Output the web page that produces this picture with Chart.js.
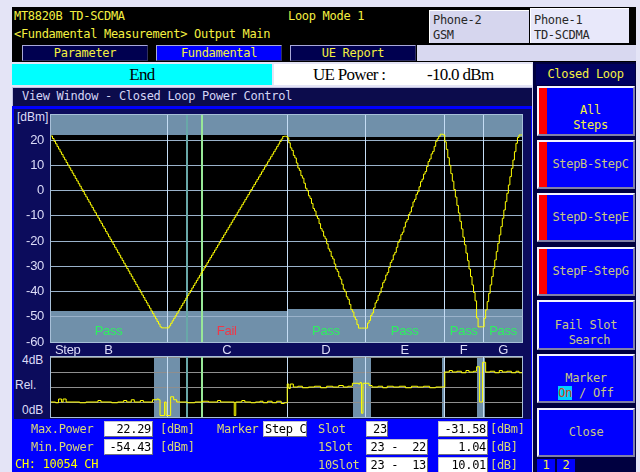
<!DOCTYPE html>
<html>
<head>
<meta charset="utf-8">
<title>Closed Loop Power Control</title>
<script src="https://cdn.jsdelivr.net/npm/chart.js@4.4.1/dist/chart.umd.min.js"></script>
<style>
  html, body { margin: 0; padding: 0; }
  body { width: 640px; height: 472px; position: relative; overflow: hidden; background: #e4e4f6;
         font-family: 'DejaVu Sans Mono', monospace; font-size: 12px; letter-spacing: -0.3px; }
  .a { position: absolute; box-sizing: border-box; white-space: pre; }
  .yl { color: #f4f040; }
  .dim { color: #d8d878; }
  .tab { top: 45px; width: 126px; height: 16px; line-height: 14px; text-align: center; color: #f4f040;
         border: 1px solid; border-color: #a8a8d8 #303060 #303060 #a8a8d8; background: #000050; }
  .box { background: #fff; color: #000; height: 16px; line-height: 14px; text-align: right; padding-right: 1px;
         border: 1px solid; border-color: #c0c0d0 #707080 #707080 #c0c0d0; }
  .btn { left: 537px; width: 98px; background: #0000ff; color: #c8c880; text-align: center; line-height: 15px;
         border: 2px solid; border-color: #f4f4ff #8080a8 #8080a8 #f4f4ff;
         display: flex; align-items: center; justify-content: center; }
  .btn.s { padding-left: 9px; }
  .btn i { position: absolute; left: 0; top: 0; bottom: 0; width: 8px; background: #ff0000; }
  .on { background: #00d0ff; color: #d04020; }
  .ax { font-family: 'Liberation Sans', sans-serif; font-size: 12px; color: #dcdcf8; letter-spacing: 0; line-height: 14px; }
  canvas { position: absolute; }
</style>
</head>
<body>
<!-- header -->
<div class="a" style="left:12px;top:7px;width:624px;height:55px;background:#000"></div>
<div class="a yl" style="left:14px;top:9px;line-height:14px">MT8820B TD-SCDMA</div>
<div class="a yl" style="left:288px;top:9px;line-height:14px">Loop Mode 1</div>
<div class="a yl" style="left:14px;top:27px;line-height:14px">&lt;Fundamental Measurement&gt; Output Main</div>
<div class="a" style="left:429px;top:10px;width:100px;height:33px;background:#d6d6ee;color:#282828;border-top:1px solid #fff;border-left:1px solid #fff;padding:2px 0 0 3px;line-height:15px">Phone-2<br>GSM</div>
<div class="a" style="left:530px;top:8px;width:99px;height:35px;background:#e8e8fa;color:#282828;border-top:1px solid #fff;border-left:1px solid #fff;padding:4px 0 0 3px;line-height:15px">Phone-1<br>TD-SCDMA</div>

<!-- tabs -->
<div class="a tab" style="left:22px">Parameter</div>
<div class="a tab" style="left:156px;background:#0000ff">Fundamental</div>
<div class="a tab" style="left:290px">UE Report</div>
<div class="a" style="left:417px;top:45px;width:219px;height:16px;background:#d8d8f0"></div>

<!-- status row -->
<div class="a" style="left:12px;top:64px;width:260px;height:21px;background:#00ffff;color:#000;text-align:center;line-height:21px;font-family:'Liberation Serif',serif;font-size:17px;letter-spacing:-0.7px">End</div>
<div class="a" style="left:274px;top:64px;width:258px;height:21px;background:#fff;color:#000;line-height:21px;font-family:'Liberation Serif',serif;font-size:17px;letter-spacing:-0.7px">
<span class="a" style="left:39px;top:0">UE Power :</span><span class="a" style="left:153px;top:0">-10.0 dBm</span></div>

<!-- right column -->
<div class="a" style="left:533px;top:62px;width:103px;height:410px;background:#000040"></div>
<div class="a yl" style="left:536px;top:64px;width:99px;height:21px;background:#000060;text-align:center;line-height:21px">Closed Loop</div>
<div class="a btn s" style="top:86px;height:50px;padding-top:14px;color:#f4f040"><i></i><span>All<br>Steps</span></div>
<div class="a btn s" style="top:140px;height:49px"><i></i><span>StepB-StepC</span></div>
<div class="a btn s" style="top:193px;height:49px"><i></i><span>StepD-StepE</span></div>
<div class="a btn s" style="top:247px;height:49px"><i></i><span>StepF-StepG</span></div>
<div class="a btn" style="top:300px;height:50px;padding-top:16px"><span>Fail Slot<br> Search</span></div>
<div class="a btn" style="top:354px;height:49px;padding-top:15px"><span>Marker<br><span class="on">On</span> / Off</span></div>
<div class="a btn" style="top:408px;height:49px"><span>Close</span></div>
<div class="a yl" style="left:537px;top:459px;width:18px;height:13px;background:#0000ff;text-align:center;line-height:13px">1</div>
<div class="a yl" style="left:557px;top:459px;width:18px;height:13px;background:#0000ff;text-align:center;line-height:13px">2</div>

<!-- view window -->
<div class="a" style="left:12px;top:87px;width:520px;height:19px;background:#0c0c4c;border-top:1px solid #c0c0e0;border-left:1px solid #c0c0e0;color:#d4d4f4;padding-left:9px;line-height:17px">View Window - Closed Loop Power Control</div>
<div class="a" style="left:12px;top:106px;width:520px;height:366px;background:#0000ff"></div>
<div class="a" style="left:14px;top:109px;width:517px;height:310px;background:#0c0c5c"></div>
<div class="a" style="left:532px;top:87px;width:1px;height:385px;background:#d0d0f0"></div>

<div class="a ax" style="left:17px;top:110px">[dBm]</div>
<div class="a ax" style="left:22px;top:353px">4dB</div>
<div class="a ax" style="left:15px;top:378px">Rel.</div>
<div class="a ax" style="left:22px;top:403px">0dB</div>

<canvas id="power" width="518" height="258" style="left:12px;top:100px"></canvas>
<canvas id="relative" width="518" height="70" style="left:12px;top:350px"></canvas>

<!-- measurement panel -->
<div class="a dim" style="left:31px;top:422px;line-height:14px">Max.Power</div>
<div class="a box" style="left:104px;top:421px;width:49px">22.29</div>
<div class="a dim" style="left:160px;top:422px;line-height:14px">[dBm]</div>
<div class="a dim" style="left:31px;top:440px;line-height:14px">Min.Power</div>
<div class="a box" style="left:104px;top:439px;width:49px">-54.43</div>
<div class="a dim" style="left:160px;top:440px;line-height:14px">[dBm]</div>
<div class="a yl" style="left:15px;top:457px;line-height:14px;color:#ffff00">CH: 10054 CH</div>

<div class="a dim" style="left:217px;top:422px;line-height:14px">Marker</div>
<div class="a box" style="left:263px;top:421px;width:44px;text-align:left;padding-left:1px">Step C</div>
<div class="a dim" style="left:318px;top:422px;line-height:14px">Slot</div>
<div class="a box" style="left:366px;top:421px;width:22px;text-align:left;padding-left:6px">23</div>
<div class="a dim" style="left:318px;top:440px;line-height:14px">1Slot</div>
<div class="a box" style="left:366px;top:439px;width:62px">23 -  22</div>
<div class="a dim" style="left:318px;top:458px;line-height:14px">10Slot</div>
<div class="a box" style="left:366px;top:457px;width:62px">23 -  13</div>
<div class="a box" style="left:438px;top:421px;width:50px">-31.58</div>
<div class="a box" style="left:438px;top:439px;width:50px">1.04</div>
<div class="a box" style="left:438px;top:457px;width:50px">10.01</div>
<div class="a dim" style="left:490px;top:422px;line-height:14px">[dBm]</div>
<div class="a dim" style="left:490px;top:440px;line-height:14px">[dB]</div>
<div class="a dim" style="left:490px;top:458px;line-height:14px">[dB]</div>

<script>
// closed loop steps and their result
const stepNames = ['B', 'C', 'D', 'E', 'F', 'G'];
const stepResult = ['Pass', 'Fail', 'Pass', 'Pass', 'Pass', 'Pass'];

// measured output power per slot [dBm], one array per step
const stepB = [21.6, 20.6, 19.5, 18.5, 17.4, 16.4, 15.3, 14.3, 13.2, 12.2,
  11.1, 10.1, 9.0, 8.0, 6.9, 5.9, 4.8, 3.8, 2.7, 1.7,
  0.6, -0.4, -1.5, -2.5, -3.6, -4.6, -5.7, -6.7, -7.8, -8.8,
  -9.9, -10.9, -12.0, -13.0, -14.1, -15.1, -16.2, -17.2, -18.3, -19.3,
  -20.4, -21.4, -22.5, -23.5, -24.6, -25.6, -26.7, -27.7, -28.8, -29.8,
  -30.9, -31.9, -33.0, -34.0, -35.1, -36.1, -37.2, -38.2, -39.3, -40.3,
  -41.4, -42.4, -43.5, -44.5, -45.6, -46.6, -47.7, -48.7, -49.8, -50.8,
  -51.9, -52.9, -54.0, -54.4, -54.4, -54.4, -54.4];
const stepC = [-54.4, -53.6, -52.6, -51.6, -50.6, -49.6, -48.6, -47.6, -46.6, -45.6,
  -44.6, -43.6, -42.6, -41.6, -40.6, -39.6, -38.6, -37.6, -36.6, -35.6,
  -34.6, -33.6, -32.6, -31.6, -30.6, -29.6, -28.6, -27.6, -26.6, -25.6,
  -24.6, -23.6, -22.6, -21.6, -20.6, -19.6, -18.6, -17.6, -16.6, -15.6,
  -14.6, -13.6, -12.6, -11.6, -10.6, -9.6, -8.6, -7.6, -6.6, -5.6,
  -4.6, -3.6, -2.6, -1.6, -0.6, 0.4, 1.4, 2.4, 3.4, 4.4,
  5.4, 6.4, 7.4, 8.4, 9.4, 10.4, 11.4, 12.4, 13.4, 14.4,
  15.4, 16.4, 17.4, 18.4, 19.4, 20.4, 21.4, 21.5, 21.5];
const stepD = [20.9, 18.9, 16.9, 15.9, 13.9, 12.9, 10.9, 8.9, 7.9, 5.9,
  4.9, 2.9, 0.9, -0.1, -2.1, -3.1, -5.1, -7.1, -8.1, -10.1,
  -11.1, -13.1, -15.1, -16.1, -18.1, -19.1, -21.1, -23.1, -24.1, -26.1,
  -27.1, -29.1, -31.1, -32.1, -34.1, -35.1, -37.1, -39.1, -40.1, -42.1,
  -43.1, -45.1, -47.1, -48.1, -50.1, -51.1, -53.1, -54.5, -54.5, -54.5,
  -54.5, -54.5];
const stepE = [-54.5, -52.5, -51.5, -49.5, -48.5, -46.5, -44.5, -43.5, -41.5, -40.5,
  -38.5, -36.5, -35.5, -33.5, -32.5, -30.5, -28.5, -27.5, -25.5, -24.5,
  -22.5, -20.5, -19.5, -17.5, -16.5, -14.5, -12.5, -11.5, -9.5, -8.5,
  -6.5, -4.5, -3.5, -1.5, -0.5, 1.5, 3.5, 4.5, 6.5, 7.5,
  9.5, 11.5, 12.5, 14.5, 15.5, 17.5, 19.5, 20.5, 21.5, 22.3,
  22.3, 22.0];
const stepF = [19.3, 16.3, 13.0, 10.0, 6.7, 3.7, 0.4, -2.6, -5.9, -8.9,
  -12.2, -15.2, -18.5, -21.5, -24.8, -27.8, -31.1, -34.1, -37.4, -40.4,
  -43.7, -50.5, -54.0, -54.0, -54.0, -54.0];
const stepG = [-50.6, -47.3, -44.0, -40.7, -37.4, -34.1, -30.8, -27.5, -24.2, -20.9,
  -17.6, -14.3, -11.0, -7.7, -4.4, -1.1, 2.2, 5.5, 8.8, 12.1,
  15.4, 18.7, 21.0, 22.0, 22.0, 22.0];

// limit masks per step [dBm]
const upperLimit = [22.0, 22.0, 21.3, 21.3, 21.3, 21.3];
const lowerLimit = [-47.7, -47.7, -47.1, -47.1, -47.1, -47.1];
const powerTicks = [20, 10, 0, -10, -20, -30, -40, -50, -60];

// marker: Step C, slot 23 (1 slot ref 22, 10 slot ref 13)
const markerStep = 1;
const markerSlot = 23;
const oneSlotRef = 22;
const tenSlotRef = 13;

// relative step size [dB] (slot where the level starts, level)
const relSlot = [0, 3, 5, 7, 8, 10, 19, 23, 31, 33, 40, 44, 48, 50, 53, 55, 59, 61, 67, 70,
  71, 72, 75, 76, 79, 81, 83, 90, 95, 100, 104, 110, 112, 121, 122, 126, 128, 132, 135, 138,
  140, 143, 146, 149, 152, 154, 156, 157, 158, 160, 163, 166, 170, 174, 178, 182, 186, 190, 193, 196,
  199, 203, 204, 205, 206, 210, 212, 216, 219, 222, 226, 230, 234, 238, 242, 246, 250, 254, 260, 263,
  265, 268, 271, 274, 276, 279, 281, 283, 285, 287, 290, 293, 296, 298, 301, 304, 307, 309, 311];
const relStep = [1.0, 0.95, 1.2, 1.0, 1.2, 1.0, 0.95, 1.0, 1.1, 1.0, 0.95, 1.0, 1.1, 1.0, 1.15, 1.0, 1.1, 1.0, 1.15, 1.2,
  1.15, 0.1, 1.0, 0.1, 1.35, 1.15, 1.0, 0.95, 1.0, 1.05, 1.0, 1.1, 1.0, 0.1, 1.0, 1.1, 1.0, 0.95, 1.0, 1.05,
  0.95, 1.05, 0.95, 1.05, 0.9, 0.95, 2.2, 1.9, 2.2, 2.0, 2.05, 1.95, 2.0, 2.05, 1.95, 2.05, 2.0, 2.1, 2.0, 2.05,
  2.25, 2.2, 2.3, 0.25, 2.25, 2.1, 2.0, 2.05, 1.95, 2.05, 2.0, 2.05, 1.95, 2.05, 2.0, 2.05, 1.95, 2.0, 3.0, 3.1,
  3.0, 3.05, 2.95, 3.1, 3.0, 3.05, 3.35, 1.0, 3.65, 3.0, 3.05, 2.95, 3.1, 3.0, 3.05, 2.95, 3.05, 2.95, 2.95];
const relTicks = [0, 1, 2, 3, 4];
const relShadeFrom = [68.3, 199.5, 258.0, 281.5];
const relShadeTo = [85.0, 211.5, 259.6, 286.6];

const steps = [stepB, stepC, stepD, stepE, stepF, stepG];
const starts = [];
let total = 0;
steps.forEach(s => { starts.push(total); total += s.length; });
starts.push(total);

const power = [].concat(...steps).map((v, i) => ({ x: i, y: v }));
const rel = relSlot.map((s, i) => ({ x: s, y: relStep[i] }));

const maskColor = '#7090aa';
const frameColor = '#a8c0d8';

function fillBlack(c) {
  const { ctx, chartArea: a } = c;
  ctx.fillStyle = '#000';
  ctx.fillRect(a.left, a.top, a.right - a.left, a.bottom - a.top);
}

function vLines(c) {
  const { ctx, chartArea: a, scales: { x } } = c;
  const line = (slot, color, w) => {
    const px = Math.round(x.getPixelForValue(slot)) + (w % 2 ? 0.5 : 0);
    ctx.strokeStyle = color;
    ctx.lineWidth = w;
    ctx.beginPath();
    ctx.moveTo(px, a.top);
    ctx.lineTo(px, a.bottom);
    ctx.stroke();
  };
  for (let i = 1; i < steps.length; i++) line(starts[i] - 0.5, '#c4dcf4', 1);
  const m0 = starts[markerStep];
  line(m0 + tenSlotRef, '#68a8a8', 2);
  line(m0 + oneSlotRef, '#e0f4e0', 1);
  line(m0 + markerSlot, '#98e898', 2);
}

function frame(c) {
  const { ctx, chartArea: a } = c;
  ctx.strokeStyle = frameColor;
  ctx.lineWidth = 1;
  ctx.strokeRect(Math.round(a.left) - 0.5, Math.round(a.top) - 0.5,
    Math.round(a.right - a.left) + 1, Math.round(a.bottom - a.top) + 1);
}

const powerDecor = {
  id: 'powerDecor',
  beforeDraw(c) {
    const { ctx, chartArea: a, scales: { x, y } } = c;
    ctx.save();
    fillBlack(c);
    ctx.fillStyle = maskColor;
    steps.forEach((s, i) => {
      const x0 = Math.max(a.left, Math.round(x.getPixelForValue(starts[i] - 0.5)));
      const x1 = Math.min(a.right, Math.round(x.getPixelForValue(starts[i + 1] - 0.5)));
      const yu = Math.round(y.getPixelForValue(upperLimit[i]));
      const yl = Math.round(y.getPixelForValue(lowerLimit[i]));
      ctx.fillRect(x0, a.top, x1 - x0, yu - a.top);
      ctx.fillRect(x0, yl, x1 - x0, a.bottom - yl);
    });
    ctx.restore();
  },
  beforeDatasetsDraw(c) {
    const { ctx, chartArea: a, scales: { x } } = c;
    ctx.save();
    vLines(c);
    frame(c);
    ctx.font = '13px "Liberation Sans"';
    ctx.textAlign = 'center';
    ctx.textBaseline = 'middle';
    steps.forEach((s, i) => {
      const cx = x.getPixelForValue((starts[i] + starts[i + 1] - 1) / 2);
      ctx.fillStyle = stepResult[i] === 'Pass' ? '#2ef060' : '#f03848';
      ctx.fillText(stepResult[i], cx, a.bottom - 11);
    });
    ctx.restore();
  },
  afterDraw(c) {
    const { ctx, chartArea: a, scales: { x } } = c;
    ctx.save();
    ctx.font = '13px "Liberation Sans"';
    ctx.fillStyle = '#dcdcf8';
    ctx.textBaseline = 'middle';
    ctx.textAlign = 'left';
    ctx.fillText('Step', a.left + 4, a.bottom + 8);
    ctx.textAlign = 'center';
    steps.forEach((s, i) => {
      const cx = x.getPixelForValue((starts[i] + starts[i + 1] - 1) / 2);
      ctx.fillText(stepNames[i], cx, a.bottom + 8);
    });
    ctx.restore();
  }
};

const relDecor = {
  id: 'relDecor',
  beforeDraw(c) {
    const { ctx, chartArea: a, scales: { x } } = c;
    ctx.save();
    fillBlack(c);
    ctx.fillStyle = maskColor;
    relShadeFrom.forEach((f, i) => {
      const x0 = Math.round(x.getPixelForValue(f));
      const x1 = Math.round(x.getPixelForValue(relShadeTo[i]));
      ctx.fillRect(x0, a.top, x1 - x0, a.bottom - a.top);
    });
    ctx.restore();
  },
  beforeDatasetsDraw(c) {
    c.ctx.save();
    vLines(c);
    frame(c);
    c.ctx.restore();
  }
};

Chart.defaults.font.family = "'Liberation Sans', sans-serif";

new Chart(document.getElementById('power'), {
  type: 'line',
  data: {
    datasets: [{
      data: power,
      borderColor: '#ffff00',
      borderWidth: 1,
      pointRadius: 0,
      stepped: true,
      fill: false
    }]
  },
  options: {
    responsive: false,
    animation: false,
    devicePixelRatio: 1,
    layout: { padding: { left: 0, right: 8, top: 13, bottom: 16 } },
    plugins: { legend: { display: false }, tooltip: { enabled: false } },
    scales: {
      x: { type: 'linear', min: 0, max: total - 1, display: false },
      y: {
        min: -60, max: 30,
        afterBuildTicks: s => { s.ticks = powerTicks.map(v => ({ value: v })); },
        afterFit: s => { s.width = 39; },
        grid: { color: '#9ab2ca', drawTicks: false },
        border: { display: false },
        ticks: { color: '#dcdcf8', font: { size: 13 }, padding: 7 }
      }
    }
  },
  plugins: [powerDecor]
});

new Chart(document.getElementById('relative'), {
  type: 'line',
  data: {
    datasets: [{
      data: rel,
      borderColor: '#ffff00',
      borderWidth: 1,
      pointRadius: 0,
      stepped: true,
      fill: false
    }]
  },
  options: {
    responsive: false,
    animation: false,
    devicePixelRatio: 1,
    layout: { padding: { left: 0, right: 8, top: 7, bottom: 3 } },
    plugins: { legend: { display: false }, tooltip: { enabled: false } },
    scales: {
      x: { type: 'linear', min: 0, max: total - 1, display: false },
      y: {
        min: 0, max: 4,
        afterBuildTicks: s => { s.ticks = relTicks.map(v => ({ value: v })); },
        afterFit: s => { s.width = 39; },
        grid: { color: '#8e8e8e', drawTicks: false },
        border: { display: false },
        ticks: { display: false }
      }
    }
  },
  plugins: [relDecor]
});
</script>
</body>
</html>
